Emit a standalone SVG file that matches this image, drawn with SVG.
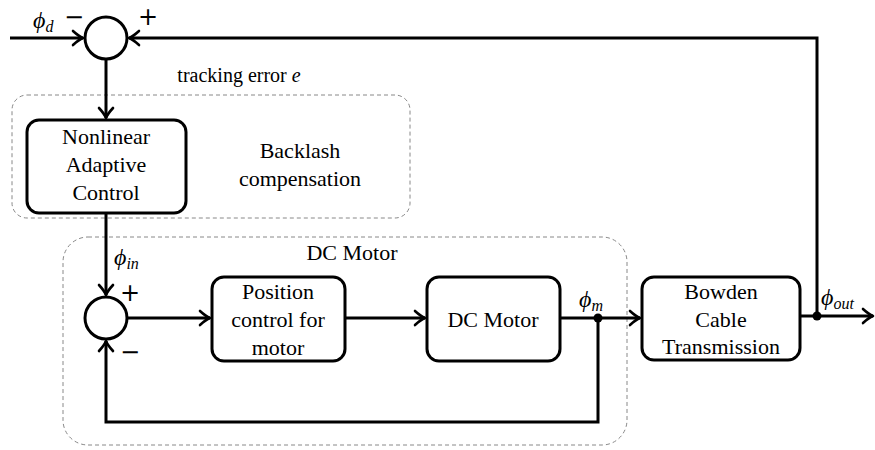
<svg xmlns="http://www.w3.org/2000/svg" width="875" height="450" viewBox="0 0 875 450" font-family="Liberation Serif">
<defs>
<marker id="arr" markerUnits="userSpaceOnUse" markerWidth="20" markerHeight="20" viewBox="-12 -10 14 20" refX="0" refY="0" orient="auto">
<path d="M -10 -7 Q -4 -1.5 0 0 Q -4 1.5 -10 7" fill="none" stroke="#000" stroke-width="2.6" stroke-linecap="round" stroke-linejoin="round"/>
</marker>
</defs>
<style>
.t{font-size:22px;fill:#000;text-anchor:middle}
.m{font-size:24px;font-style:italic;fill:#000}
.s{font-size:16px}
.box{fill:#fff;stroke:#000;stroke-width:3}
.grp{fill:none;stroke:#888;stroke-width:1;stroke-dasharray:4 3}
.sum{fill:#fff;stroke:#000;stroke-width:3}
.w{fill:none;stroke:#000;stroke-width:3}
.sg{font-size:24px;fill:#000;text-anchor:middle}
</style>
<rect width="875" height="450" fill="#fff"/>
<g id="backlash-group">
<rect class="grp" x="12" y="95" width="398" height="123" rx="15"/>
<text class="t" x="300" y="158" font-family="Liberation Serif">Backlash</text>
<text class="t" x="300" y="186" font-family="Liberation Serif">compensation</text>
</g>
<g id="dcmotor-group">
<rect class="grp" x="63" y="237" width="564" height="208" rx="25"/>
<text class="t" x="352" y="260" font-family="Liberation Serif">DC Motor</text>
</g>
<g id="connectors">
<path class="w" d="M 10 38 H 83" marker-end="url(#arr)"/>
<path class="w" d="M 817 316 V 38 H 129" marker-end="url(#arr)"/>
<path class="w" d="M 106 59 V 118" marker-end="url(#arr)"/>
<path class="w" d="M 106 213 V 295" marker-end="url(#arr)"/>
<path class="w" d="M 128 318 H 210" marker-end="url(#arr)"/>
<path class="w" d="M 345 318 H 425" marker-end="url(#arr)"/>
<path class="w" d="M 560 318 H 640" marker-end="url(#arr)"/>
<path class="w" d="M 598 318 V 422 H 106 V 341" marker-end="url(#arr)"/>
<path class="w" d="M 800 316 H 873" marker-end="url(#arr)"/>
<circle cx="598" cy="318" r="4.5" fill="#000"/>
<circle cx="817" cy="316" r="4.5" fill="#000"/>
</g>
<g id="sum1">
<circle class="sum" cx="106" cy="38" r="21"/>
<text class="sg" x="74" y="25" font-family="DejaVu Sans">−</text>
<text class="sg" x="148" y="25" font-family="DejaVu Sans">+</text>
</g>
<g id="sum2">
<circle class="sum" cx="106" cy="318" r="21"/>
<text class="sg" x="130" y="301" font-family="DejaVu Sans">+</text>
<text class="sg" x="130" y="360" font-family="DejaVu Sans">−</text>
</g>
<g id="nac">
<rect class="box" x="27" y="120" width="159" height="93" rx="12"/>
<text class="t" x="106" y="144" font-family="Liberation Serif">Nonlinear</text>
<text class="t" x="106" y="172" font-family="Liberation Serif">Adaptive</text>
<text class="t" x="106" y="200" font-family="Liberation Serif">Control</text>
</g>
<g id="pos">
<rect class="box" x="212" y="277" width="133" height="84" rx="12"/>
<text class="t" x="278" y="299" font-family="Liberation Serif">Position</text>
<text class="t" x="278" y="327" font-family="Liberation Serif">control for</text>
<text class="t" x="278" y="355" font-family="Liberation Serif">motor</text>
</g>
<g id="dcm">
<rect class="box" x="427" y="277" width="133" height="84" rx="12"/>
<text class="t" x="493" y="327" font-family="Liberation Serif">DC Motor</text>
</g>
<g id="bowden">
<rect class="box" x="642" y="277" width="158" height="83" rx="12"/>
<text class="t" x="721" y="299" font-family="Liberation Serif">Bowden</text>
<text class="t" x="721" y="327" font-family="Liberation Serif">Cable</text>
<text class="t" x="721" y="354" font-family="Liberation Serif">Transmission</text>
</g>
<g id="labels">
<text class="m" x="33" y="28" font-family="Liberation Serif">ϕ<tspan class="s" dy="4">d</tspan></text>
<text class="t" x="239" y="82" style="font-size:20px" font-family="Liberation Serif">tracking error <tspan style="font-style:italic">e</tspan></text>
<text class="m" x="114" y="265" font-family="Liberation Serif">ϕ<tspan class="s" dy="4">in</tspan></text>
<text class="m" x="579" y="307" font-family="Liberation Serif">ϕ<tspan class="s" dy="4">m</tspan></text>
<text class="m" x="821" y="305" font-family="Liberation Serif">ϕ<tspan class="s" dy="4">out</tspan></text>
</g>
</svg>
